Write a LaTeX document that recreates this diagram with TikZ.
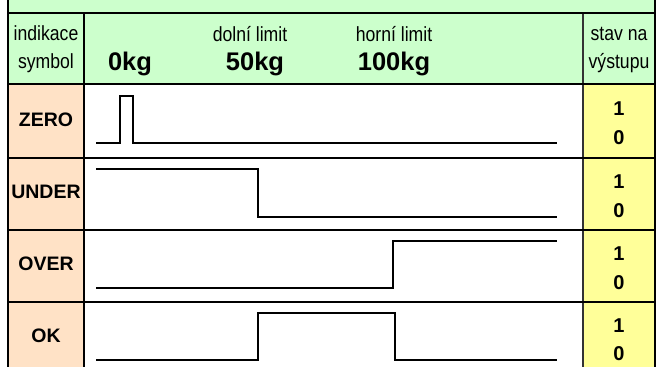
\documentclass[tikz,border=0pt]{standalone}
\usepackage{fontspec}
\setmainfont{Liberation Sans}
\newfontfamily\narrowfont[FakeStretch=0.86]{Liberation Sans}
\definecolor{headgreen}{HTML}{CCFFCC}
\definecolor{symbolorange}{HTML}{FFE2C6}
\definecolor{outyellow}{HTML}{FFFF99}
\tikzset{
  gridline/.style={line width=1.6pt},
  signal/.style={line width=2pt, line join=miter},
  thin text/.style={font=\narrowfont\fontsize{20.5}{28}\selectfont, align=center, inner sep=0pt, anchor=base},
  weight/.style={font=\bfseries\fontsize{25.5}{28}\selectfont, inner sep=0pt, anchor=base},
  symbolname/.style={font=\bfseries\fontsize{19.5}{22}\selectfont, inner sep=0pt},
  bit/.style={font=\bfseries\fontsize{20}{22}\selectfont, inner sep=0pt, anchor=base},
}
\begin{document}
\begin{tikzpicture}[x=1pt, y=-1pt]

\useasboundingbox (0,0) rectangle (657,367);

\fill[headgreen] (8,0) rectangle (655,84);
\fill[symbolorange] (8,84) rectangle (84,367);
\fill[outyellow] (583,84) rectangle (655,367);

\draw[gridline] (8,0) -- (8,367);
\draw[gridline] (655,0) -- (655,367);
\draw[gridline] (84,13) -- (84,367);
\draw[gridline, black!80] (583,13) -- (583,367);
\draw[gridline] (8,13) -- (655,13);
\draw[gridline] (8,84) -- (655,84);
\draw[gridline] (8,158) -- (655,158);
\draw[gridline] (8,230) -- (655,230);
\draw[gridline] (8,302) -- (655,302);

\node (indikace) at (46,40) [thin text] {indikace};
\node (symbol) at (46,68) [thin text] {symbol};
\node (dolni) at (250,41) [thin text] {dolní limit};
\node (horni) at (394,41) [thin text] {horní limit};
\node (stav) at (619,40) [thin text] {stav na};
\node (vystup) at (619,68) [thin text] {výstupu};

\node (nula) at (130,70) [weight] {0kg};
\node (padesat) at (255,70) [weight] {50kg};
\node (sto) at (394,70) [weight] {100kg};

\node (zero) at (46,120) [symbolname] {ZERO};
\node (under) at (46,192) [symbolname] {UNDER};
\node (over) at (46,264) [symbolname] {OVER};
\node (ok) at (46,336) [symbolname] {OK};

\node (zero1) at (619,115) [bit] {1};
\node (zero0) at (619,144) [bit] {0};
\node (under1) at (619,188) [bit] {1};
\node (under0) at (619,217) [bit] {0};
\node (over1) at (619,260) [bit] {1};
\node (over0) at (619,289) [bit] {0};
\node (ok1) at (619,332) [bit] {1};
\node (ok0) at (619,360) [bit] {0};

\draw[signal] (96,143) -- (120,143) -- (120,96) -- (133,96) -- (133,143) -- (557,143);
\draw[signal] (96,169) -- (258,169) -- (258,217) -- (557,217);
\draw[signal] (96,288) -- (393,288) -- (393,241) -- (557,241);
\draw[signal] (96,360) -- (258,360) -- (258,313) -- (395,313) -- (395,360) -- (557,360);

\end{tikzpicture}
\end{document}
